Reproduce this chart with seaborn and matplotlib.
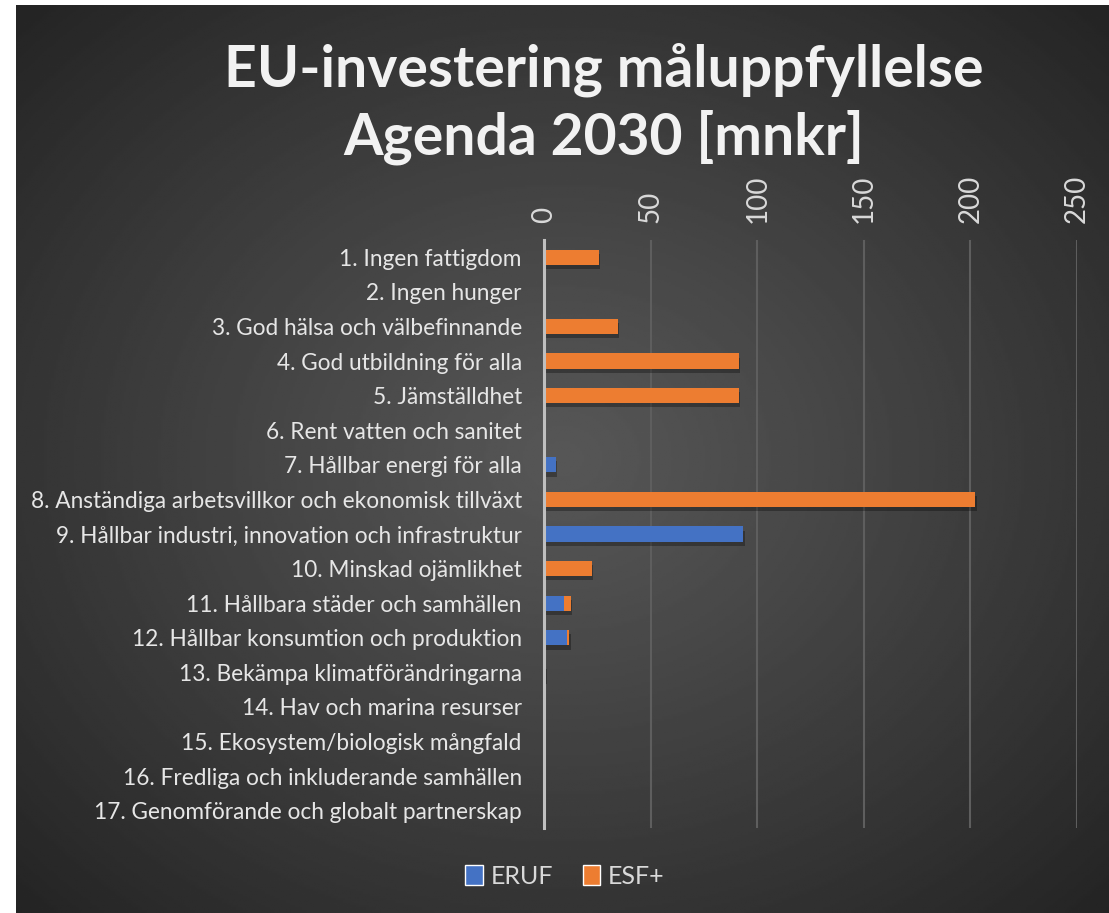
import numpy as np
import pandas as pd
import matplotlib.pyplot as plt
import matplotlib.patheffects as pe
from matplotlib.patches import Patch
import seaborn as sns

# Daten
kategorier = [
    '1. Ingen fattigdom',
    '2. Ingen hunger',
    '3. God hälsa och välbefinnande',
    '4. God utbildning för alla',
    '5. Jämställdhet',
    '6. Rent vatten och sanitet',
    '7. Hållbar energi för alla',
    '8. Anständiga arbetsvillkor och ekonomisk tillväxt',
    '9. Hållbar industri, innovation och infrastruktur',
    '10. Minskad ojämlikhet',
    '11. Hållbara städer och samhällen',
    '12. Hållbar konsumtion och produktion',
    '13. Bekämpa klimatförändringarna',
    '14. Hav och marina resurser',
    '15. Ekosystem/biologisk mångfald',
    '16. Fredliga och inkluderande samhällen',
    '17. Genomförande och globalt partnerskap',
]
eruf = [0, 0, 0, 0, 0, 0, 5.5, 0.8, 93.5, 0, 9.2, 11.0, 0.6, 0, 0, 0, 0]
esf = [25.6, 0, 34.5, 91.3, 91.3, 0, 0, 201.5, 0, 22.3, 3.3, 0.9, 0, 0, 0, 0, 0]
xticks = [0, 50, 100, 150, 200, 250]

df = pd.DataFrame({'Mål': kategorier, 'ERUF': eruf, 'ESF+': esf})
df['Totalt'] = df['ERUF'] + df['ESF+']

BLA = '#4472C4'
ORANGE = '#ED7D31'
TEXT = '#D9D9D9'

sns.set_theme(style='white')
plt.rcParams['font.family'] = ['Lato', 'DejaVu Sans']

fig = plt.figure(figsize=(11.09, 9.13), dpi=100, facecolor='white')

# Hintergrund: radialer Verlauf
bg = fig.add_axes([16 / 1109, 0, 1 - 16 / 1109, 1 - 5 / 913], zorder=-5)
yy, xx = np.mgrid[0:1:400j, 0:1:480j]
r = np.sqrt(((xx - 0.5) / 0.5) ** 2 + ((yy - 0.5) / 0.5) ** 2) / np.sqrt(2)
val = 0.34 - 0.2 * np.clip(r, 0, 1) ** 1.1
bg.imshow(val, cmap='gray', vmin=0, vmax=1, aspect='auto', extent=[0, 1, 0, 1])
bg.axis('off')

ax = fig.add_axes([544 / 1109, 1 - 828 / 913, (1077 - 544) / 1109, (828 - 240) / 913])
ax.patch.set_alpha(0)

shadow = [pe.SimplePatchShadow(offset=(1, -3), shadow_rgbFace='black', alpha=0.3), pe.Normal()]
sns.barplot(data=df, x='Totalt', y='Mål', color=ORANGE, width=0.44, saturation=1, ax=ax, orient='h')
n_first = len(ax.patches)
sns.barplot(data=df, x='ERUF', y='Mål', color=BLA, width=0.44, saturation=1, ax=ax, orient='h')
for i, p in enumerate(ax.patches):
    p.set_linewidth(0)
    if i < n_first:
        p.set_path_effects(shadow)

ax.set_xlim(0, 250)
ax.set_xticks(xticks)
ax.xaxis.tick_top()
ax.tick_params(axis='x', colors=TEXT, labelsize=20, labelrotation=90, length=0, pad=12)
ax.tick_params(axis='y', colors=TEXT, labelsize=16.3, length=0, pad=16)
for lbl in ax.get_yticklabels():
    lbl.set_color('#E6E6E6')
ax.set_xlabel('')
ax.set_ylabel('')
ax.grid(axis='x', color='#5E5E5E', linewidth=1.5)
ax.set_axisbelow(True)
for s in ['top', 'right', 'bottom']:
    ax.spines[s].set_visible(False)
ax.spines['left'].set_color('#BFBFBF')
ax.spines['left'].set_linewidth(2.2)
ax.spines['left'].set_zorder(5)

fig.text(604 / 1109, 1 - 70 / 913, 'EU-investering måluppfyllelse', ha='center', va='center',
         fontsize=41, fontweight='bold', color='#F2F2F2')
fig.text(604 / 1109, 1 - 137 / 913, 'Agenda 2030 [mnkr]', ha='center', va='center',
         fontsize=41, fontweight='bold', color='#F2F2F2')

handles = [Patch(facecolor=BLA, label='ERUF'), Patch(facecolor=ORANGE, label='ESF+')]
leg = fig.legend(handles=handles, loc='center', bbox_to_anchor=(565 / 1109, 1 - 876 / 913), ncol=2,
                 frameon=False, fontsize=18, handlelength=0.7, handleheight=0.9, handletextpad=0.3,
                 columnspacing=1.2)
for t in leg.get_texts():
    t.set_color(TEXT)

fig.savefig('out.png', dpi=100, facecolor='white')
